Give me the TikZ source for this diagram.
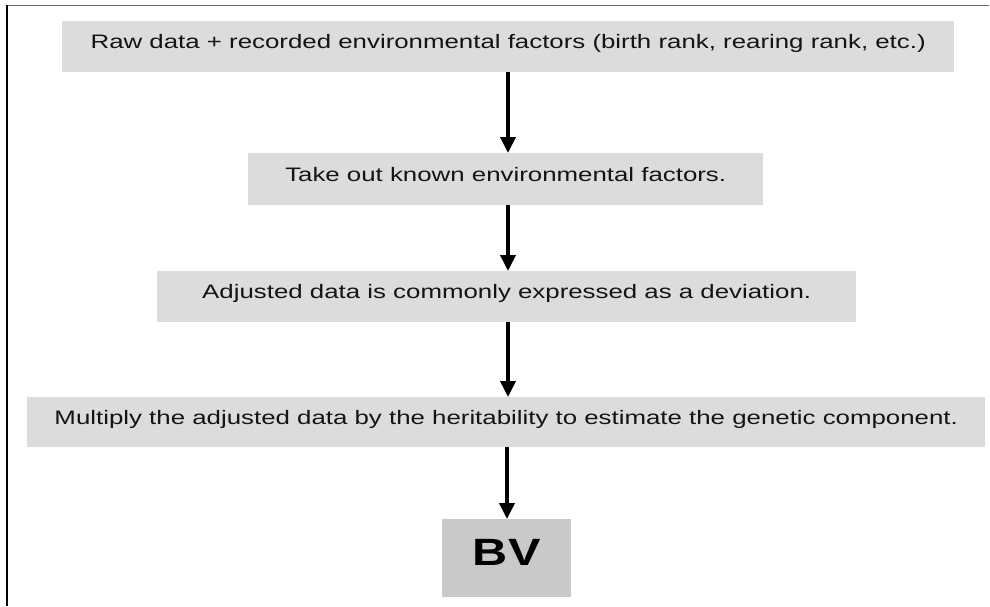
\documentclass[tikz,border=0pt]{standalone}
\usepackage{fontspec}
\setmainfont{Liberation Sans}
\usetikzlibrary{arrows.meta}
% wide, slightly stretched lettering used inside the boxes
\newcommand{\widetext}[2][1.325]{\scalebox{#1}[1]{#2}}
\begin{document}
\begin{tikzpicture}[x=1pt,y=-1pt,
  stepbox/.style={fill=boxgray, draw=none, inner sep=0pt, text=txtgray,
    font=\fontsize{19.5}{22}\selectfont, anchor=north west,
    text height=14pt, text depth=10pt},
  flow/.style={line width=3.6pt, draw=black,
    -{Triangle[width=15pt,length=16pt]}}]
  \definecolor{boxgray}{HTML}{DCDCDC}
  \definecolor{bvgray}{HTML}{C9C9C9}
  \definecolor{txtgray}{HTML}{141414}
  \definecolor{framegray}{HTML}{6A6A6A}
  \useasboundingbox (0,0) rectangle (990,606);
  \fill[white] (0,0) rectangle (990,606);
  % frame lines along the top and left edges
  \draw[framegray, line width=1.6pt] (7,5.5) -- (989,5.5);
  \draw[black, line width=1.6pt] (7,5) -- (7,606);
  % process steps
  \node[stepbox, minimum width=892pt, minimum height=51pt] (raw) at (62,21)
    {\widetext{Raw data + recorded environmental factors (birth rank, rearing rank, etc.)}};
  \node[stepbox, minimum width=515pt, minimum height=52pt] (takeout) at (248,153)
    {\widetext{Take out known environmental factors.}};
  \node[stepbox, minimum width=699pt, minimum height=51pt] (adjusted) at (157,271)
    {\widetext{Adjusted data is commonly expressed as a deviation.}};
  \node[stepbox, minimum width=958pt, minimum height=50pt] (multiply) at (27,397)
    {\widetext{Multiply the adjusted data by the heritability to estimate the genetic component.}};
  \node[stepbox, fill=bvgray, minimum width=129pt, minimum height=78pt,
    font=\fontsize{38}{42}\bfseries\selectfont, text=black,
    text height=27pt, text depth=12pt] (bv) at (442,519) {\widetext[1.28]{BV}};
  % connectors
  \coordinate (a1) at (508,72);
  \draw[flow] (a1) -- (a1 |- takeout.north);
  \coordinate (a2) at (508,205);
  \draw[flow] (a2) -- (a2 |- adjusted.north);
  \coordinate (a3) at (508,322);
  \draw[flow] (a3) -- (a3 |- multiply.north);
  \coordinate (a4) at (507,447);
  \draw[flow] (a4) -- (a4 |- bv.north);
\end{tikzpicture}
\end{document}
